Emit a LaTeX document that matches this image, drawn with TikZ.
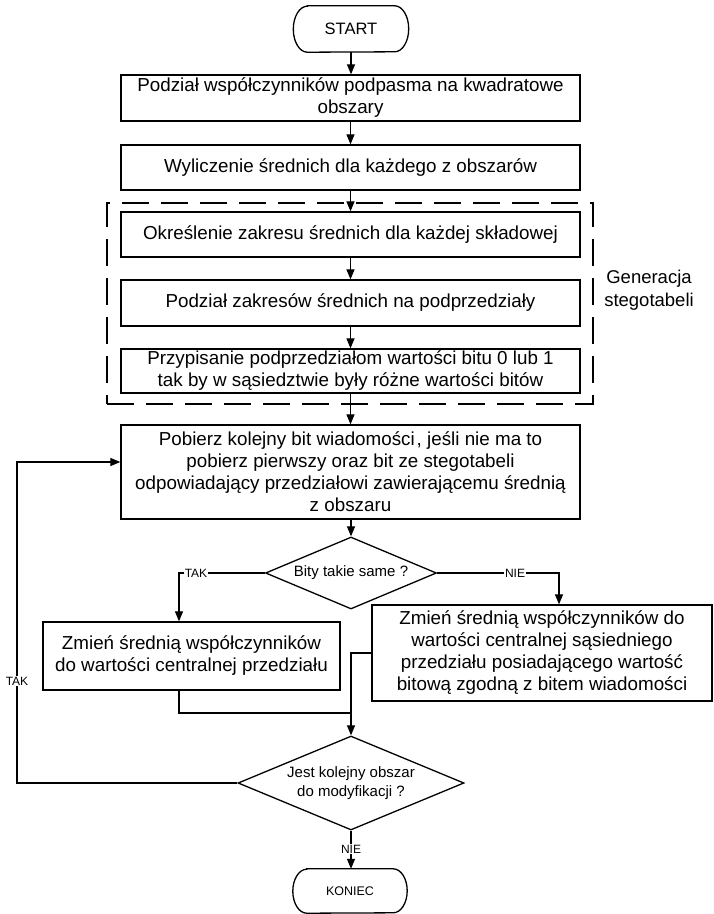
\documentclass[tikz,border=0pt]{standalone}
\usepackage{fontspec}
\setmainfont{Liberation Sans}
\usetikzlibrary{arrows.meta,shapes.geometric}
\newcommand\termshape[2]{%
  \draw[boxline] ([xshift=14pt]#1.north west) -- ([xshift=-14pt]#1.north east)
    arc[start angle=90,end angle=-90,x radius=14pt,y radius=#2]
    -- ([xshift=14pt]#1.south west)
    arc[start angle=270,end angle=90,x radius=14pt,y radius=#2] -- cycle;}
\begin{document}
\begin{tikzpicture}[x=1pt,y=1pt,
  boxline/.style={line width=1.3pt,draw=black},
  procbox/.style={boxline,rectangle,inner sep=0pt,align=center,
     font=\fontsize{18.8}{22}\selectfont},
  decbox/.style={boxline,diamond,inner sep=0pt,align=center,
     font=\fontsize{15}{19}\selectfont},
  termtext/.style={rectangle,inner sep=0pt},
  conn/.style={line width=1.2pt,draw=black},
  arr/.style={conn,-{Triangle[length=10pt,width=8pt]}},
  lbl/.style={fill=white,inner sep=1pt,font=\fontsize{12}{14}\selectfont},
  grpbox/.style={draw=black,line width=2.3pt,dash pattern=on 27pt off 12pt,
     rectangle,inner sep=0pt}]
\useasboundingbox (0,0) rectangle (714,-914);
% terminals
\node[termtext,minimum width=115,minimum height=46,font=\fontsize{16.5}{19}\selectfont] (start) at (351,-29) {START};
\termshape{start}{23pt}
% process boxes
\node[procbox,minimum width=459,minimum height=46] (b1) at (350.5,-98) {Podział współczynników podpasma na kwadratowe\\obszary};
\node[procbox,minimum width=459,minimum height=45] (b2) at (350.5,-167.5) {Wyliczenie średnich dla każdego z obszarów};
\node[grpbox,minimum width=486,minimum height=201] (grp) at (350,-303.5) {};
\node[procbox,minimum width=459,minimum height=45] (b3) at (350.5,-234.5) {Określenie zakresu średnich dla każdej składowej};
\node[procbox,minimum width=459,minimum height=46] (b4) at (350.5,-303) {Podział zakresów średnich na podprzedziały};
\node[procbox,minimum width=459,minimum height=44] (b5) at (350.5,-371) {Przypisanie podprzedziałom wartości bitu 0 lub 1\\ tak by w sąsiedztwie były różne wartości bitów};
\node[align=center,inner sep=0pt,font=\fontsize{18.5}{23}\selectfont] (gen) at (649,-290) {Generacja\\stegotabeli};
\node[procbox,minimum width=459,minimum height=94] (b6) at (350.5,-472) {Pobierz kolejny bit wiadomości\kern2pt, jeśli nie ma to\\pobierz pierwszy oraz bit ze stegotabeli\\odpowiadający przedziałowi zawierającemu średnią\\z obszaru};
\node[decbox,aspect=2.375,minimum width=171,minimum height=72] (d1) at (351,-573) {Bity takie same ?};
\node[procbox,minimum width=297,minimum height=68] (b7) at (191.5,-656) {Zmień średnią współczynników\\do wartości centralnej przedziału};
\node[procbox,minimum width=340,minimum height=96] (b8) at (542,-653) {Zmień średnią współczynników do\\wartości centralnej sąsiedniego\\przedziału posiadającego wartość\\bitową zgodną z bitem wiadomości};
\node[decbox,aspect=2.4,minimum width=226,minimum height=94] (d2) at (351,-783) {Jest kolejny obszar\\do modyfikacji ?};
\node[termtext,minimum width=114,minimum height=44,font=\fontsize{12.5}{15}\selectfont] (kon) at (350,-891) {KONIEC};
\termshape{kon}{22pt}
% connectors
\draw[arr] (start.south) -- (b1.north -| start.south);
\draw[arr] (b1) -- (b2);
\draw[arr] (b2) -- (b3);
\draw[arr] (b3) -- (b4);
\draw[arr] (b4) -- (b5);
\draw[arr] (b5) -- (b6);
\draw[arr] (b6.south -| d1.north) -- (d1.north);
\coordinate (tk) at (179,-573);
\coordinate (nk) at (559,-573);
\draw[arr] (d1.west) -- (tk) -- (tk |- b7.north);
\draw[arr] (d1.east) -- (nk) -- (nk |- b8.north);
\node[lbl] (taklbl) at (196,-573) {TAK};
\node[lbl] (nielbl) at (515,-573) {NIE};
\coordinate (j) at (351,-713);
\draw[conn] (tk |- b7.south) -- (tk |- j) -- (j);
\draw[arr] (b8.west) -- (b8.west -| j) -- (d2.north);
\coordinate (l1) at (17,-783);
\coordinate (l2) at (17,-462);
\draw[arr] (d2.west) -- (l1) -- (l2) -- (l2 -| b6.west);
\node[lbl] (tak2) at (17,-681) {TAK};
\draw[arr] (d2.south) -- (kon.north -| d2.south);
\node[lbl] (nie2) at (351,-849) {NIE};
\end{tikzpicture}
\end{document}
